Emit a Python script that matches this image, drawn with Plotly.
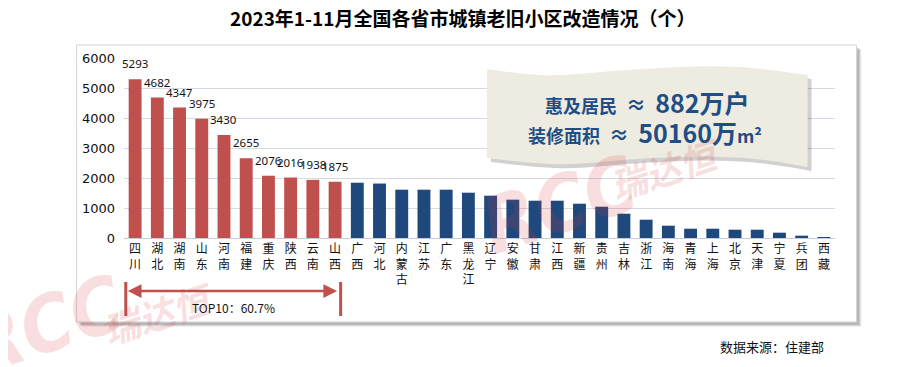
import plotly.graph_objects as go

# ---- data ----
provinces = ["四川", "湖北", "湖南", "山东", "河南", "福建", "重庆", "陕西", "云南", "山西",
             "广西", "河北", "内蒙古", "江苏", "广东", "黑龙江", "辽宁", "安徽", "甘肃", "江西",
             "新疆", "贵州", "吉林", "浙江", "海南", "青海", "上海", "北京", "天津", "宁夏",
             "兵团", "西藏"]
counts = [5293, 4682, 4347, 3975, 3430, 2655, 2076, 2016, 1938, 1875,
          1843, 1815, 1610, 1610, 1610, 1510, 1410, 1277, 1243, 1243,
          1143, 1043, 810, 610, 410, 310, 310, 277, 277, 177,
          77, 12]
top_n = 10
top_share_label = "TOP10：60.7%"
title_text = "2023年1-11月全国各省市城镇老旧小区改造情况（个）"
source_text = "数据来源：住建部"
y_ticks = [0, 1000, 2000, 3000, 4000, 5000, 6000]

RED = "#C0504D"
BLUE = "#1F497D"

# page body adds an 8px margin; work in reference-pixel coordinates and shift
OFF = 8
W, H = 900 - OFF, 367 - OFF
PL, PR, PT, PB = 123.5, 835.5, 58, 238   # plot area in reference pixels
L, R, T, B = PL - OFF, W - (PR - OFF), PT - OFF, H - (PB - OFF)


def px(x):
    return (x - PL) / (PR - PL)


def py(y):
    return (PB - y) / (PB - PT)


colors = [RED if i < top_n else BLUE for i in range(len(provinces))]
tick_text = ["<br>".join(list(p)) for p in provinces]

fig = go.Figure()
fig.add_trace(go.Bar(
    x=provinces, y=counts, marker=dict(color=colors, line=dict(width=0)),
    hoverinfo="x+y",
))

annotations = []
# value labels for top bars
for p, v in zip(provinces[:top_n], counts[:top_n]):
    annotations.append(dict(x=p, y=v, xref="x", yref="y", text=str(v), showarrow=False,
                            yanchor="bottom", yshift=6,
                            font=dict(family="Noto Sans", size=11.5, color="#111")))

# title
annotations.append(dict(x=px(463), y=py(18), xref="paper", yref="paper", text="<b>" + title_text + "</b>",
                        showarrow=False, xanchor="center", yanchor="middle",
                        font=dict(family="Noto Sans CJK SC", size=19, color="#000")))
# source
annotations.append(dict(x=px(826), y=py(346), xref="paper", yref="paper", text=source_text,
                        showarrow=False, xanchor="right", yanchor="middle",
                        font=dict(family="Noto Sans CJK SC", size=13, color="#111")))

# TOP10 double arrow
left_idx, right_idx = -0.42, top_n - 1 + 0.25
annotations.append(dict(x=left_idx, y=py(291), xref="x", yref="paper",
                        ax=right_idx, ay=0, axref="x", ayref="pixel",
                        text="", showarrow=True, arrowhead=2, arrowside="end+start",
                        arrowsize=1.1, arrowwidth=2.5, arrowcolor=RED, standoff=2, startstandoff=2))
annotations.append(dict(x=(left_idx + right_idx) / 2, y=py(307), xref="x", yref="paper",
                        text=top_share_label, showarrow=False, xanchor="center", yanchor="middle",
                        font=dict(family="Noto Sans CJK SC", size=12, color="#111")))

# info box text
box_font = "Noto Sans CJK SC"
annotations.append(dict(x=px(647), y=py(102), xref="paper", yref="paper", showarrow=False,
                        xanchor="center", yanchor="middle",
                        text="<b><span style='font-size:18px'>惠及居民</span>"
                             "<span style='font-size:20px'>  ≈  </span>"
                             "<span style='font-size:25px'>882万户</span></b>",
                        font=dict(family=box_font, size=18, color="#1F4E85")))
annotations.append(dict(x=px(645), y=py(132), xref="paper", yref="paper", showarrow=False,
                        xanchor="center", yanchor="middle",
                        text="<b><span style='font-size:18px'>装修面积</span>"
                             "<span style='font-size:20px'>  ≈  </span>"
                             "<span style='font-size:25px'>50160万</span>"
                             "<span style='font-size:18px'>m²</span></b>",
                        font=dict(family=box_font, size=18, color="#1F4E85")))

# watermarks
wm_color = "rgba(215,60,60,0.17)"
wm_latin = "DejaVu Sans Condensed, Liberation Sans, Arial, sans-serif"
for (x, y, txt, size, fam) in [(560, 205, "RCC", 78, wm_latin),
                               (665, 168, "瑞达恒", 36, "Noto Sans CJK SC"),
                               (45, 325, "RCC", 78, wm_latin),
                               (158, 312, "瑞达恒", 36, "Noto Sans CJK SC")]:
    annotations.append(dict(x=px(x), y=py(y), xref="paper", yref="paper", showarrow=False,
                            text="<b><i>" + txt + "</i></b>", textangle=-18,
                            xanchor="center", yanchor="middle",
                            font=dict(family=fam, size=size, color=wm_color)))

shapes = []
# frame shadow + frame
for off, col in [(5, "rgba(0,0,0,0.06)"), (4, "rgba(0,0,0,0.10)"), (3, "rgba(0,0,0,0.14)")]:
    shapes.append(dict(type="rect", xref="paper", yref="paper", layer="below",
                       x0=px(76 + off), x1=px(857 + off), y0=py(45 + off), y1=py(322 + off),
                       line=dict(width=0), fillcolor=col))
shapes.append(dict(type="rect", xref="paper", yref="paper", layer="below",
                   x0=px(76), x1=px(857), y0=py(45), y1=py(322),
                   line=dict(width=1, color="#D4D4D4"), fillcolor="white"))

# TOP10 vertical markers
for xi in (left_idx, right_idx):
    shapes.append(dict(type="line", xref="x", yref="paper", x0=xi, x1=xi,
                       y0=py(282), y1=py(316), line=dict(color=RED, width=3)))


# wavy info box
def wave_path(dx=0, dy=0):
    pts_top = [(487, 69), (520, 74), (560, 76), (610, 71), (660, 68), (700, 66), (750, 67), (808, 75)]
    pts_bot = [(808, 167), (770, 160), (720, 156), (670, 157), (620, 160), (570, 165), (530, 163), (487, 158)]

    def P(x, y):
        return f"{px(x + dx):.5f},{py(y + dy):.5f}"

    d = "M " + P(*pts_top[0])
    allpts = pts_top
    for i in range(1, len(allpts) - 1):
        mx = (allpts[i][0] + allpts[i + 1][0]) / 2
        my = (allpts[i][1] + allpts[i + 1][1]) / 2
        d += " Q " + P(*allpts[i]) + " " + P(mx, my)
    d += " L " + P(*allpts[-1])
    d += " L " + P(*pts_bot[0])
    for i in range(1, len(pts_bot) - 1):
        mx = (pts_bot[i][0] + pts_bot[i + 1][0]) / 2
        my = (pts_bot[i][1] + pts_bot[i + 1][1]) / 2
        d += " Q " + P(*pts_bot[i]) + " " + P(mx, my)
    d += " L " + P(*pts_bot[-1]) + " Z"
    return d


shapes.append(dict(type="path", xref="paper", yref="paper", layer="above",
                   path=wave_path(4, 4), fillcolor="rgba(0,0,0,0.18)", line=dict(width=0)))
shapes.append(dict(type="path", xref="paper", yref="paper", layer="above",
                   path=wave_path(), fillcolor="#EEEBE0", line=dict(width=0)))

fig.update_layout(
    width=W, height=H,
    margin=dict(l=L, r=R, t=T, b=B, autoexpand=False),
    paper_bgcolor="white", plot_bgcolor="rgba(0,0,0,0)",
    bargap=0.42, showlegend=False,
    annotations=annotations, shapes=shapes,
    font=dict(family="Noto Sans CJK SC", color="#111"),
)
fig.update_xaxes(
    tickmode="array", tickvals=provinces, ticktext=tick_text, tickangle=0,
    tickfont=dict(family="Noto Sans CJK SC", size=12, color="#111"),
    showgrid=False, showline=False, ticks="", ticklabelstandoff=2,
    range=[-0.5, len(provinces) - 0.5],
)
fig.update_yaxes(
    range=[0, 6000], tickvals=y_ticks, showgrid=True, gridcolor="#D5D9E3", gridwidth=1,
    zeroline=True, zerolinecolor="#C6CBD8", zerolinewidth=1,
    tickfont=dict(family="DejaVu Sans", size=13, color="#111"), ticks="", ticklabelstandoff=8,
)

fig.write_html("out.html")
